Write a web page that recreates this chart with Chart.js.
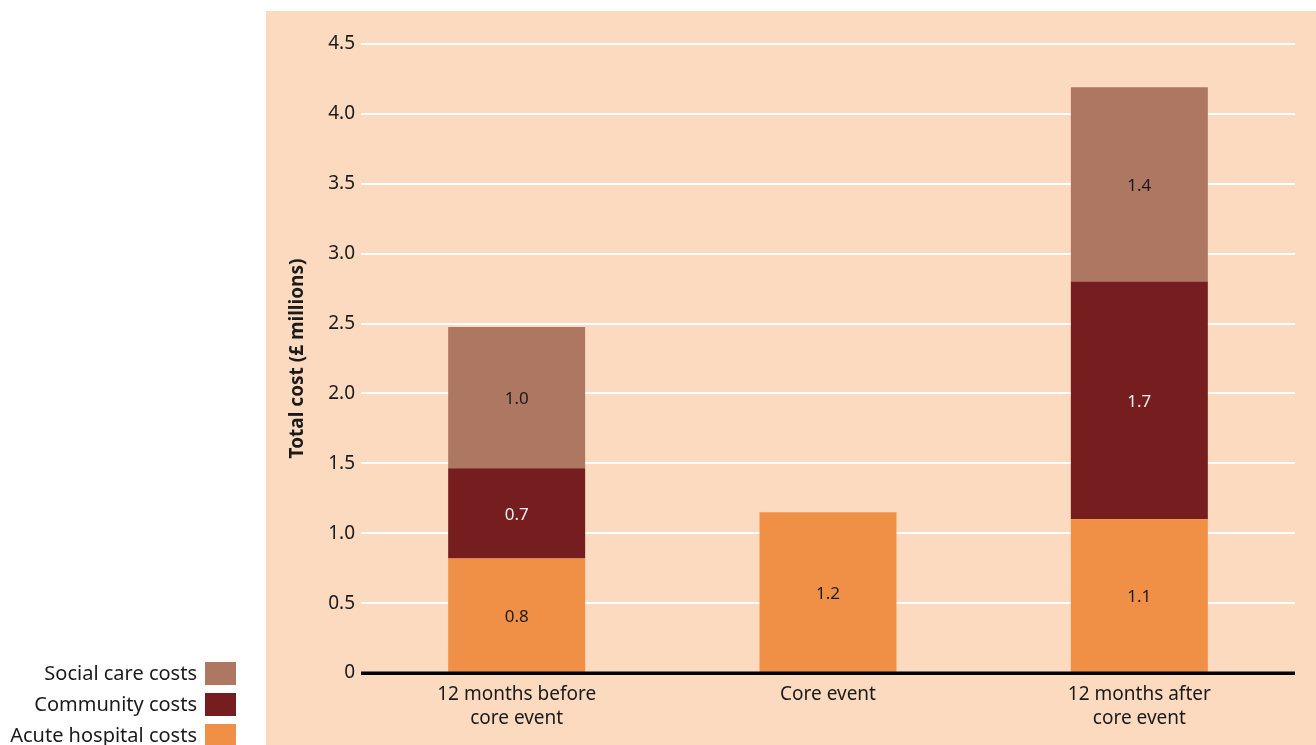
<!DOCTYPE html>
<html>
<head>
<meta charset="utf-8">
<script src="https://cdn.jsdelivr.net/npm/chart.js@4"></script>
<style>
  html, body { margin: 0; padding: 0; background: #fff; }
  #wrap { width: 1316px; height: 745px; position: relative; }
</style>
</head>
<body>
<div id="wrap"><canvas id="costChart" width="1316" height="745"></canvas></div>
<script>
const categories = [["12 months before", "core event"], "Core event", ["12 months after", "core event"]];
const acuteCosts = [0.82, 1.15, 1.10];
const communityCosts = [0.645, 0, 1.70];
const socialCosts = [1.01, 0, 1.39];
const acuteLabels = ["0.8", "1.2", "1.1"];
const communityLabels = ["0.7", "", "1.7"];
const socialLabels = ["1.0", "", "1.4"];

const FONT = "'Noto Sans', sans-serif";
const BG = "#FBDABF";

// peach panel behind the plot, legend stays on white
const panelBg = {
    id: "panelBg",
    beforeDraw(chart) {
        const c = chart.ctx;
        c.save();
        c.fillStyle = BG;
        c.fillRect(266, 11, chart.width - 266, chart.height - 11);
        c.restore();
    }
};

// black baseline + numbers inside the bar segments
const barText = {
    id: "barText",
    afterDatasetsDraw(chart) {
        const c = chart.ctx;
        const area = chart.chartArea;
        const y0 = chart.scales.y.getPixelForValue(0);
        c.save();
        c.fillStyle = "#000";
        c.fillRect(area.left, y0 - 1.5, area.right - area.left, 3.5);

        c.font = "17px " + FONT;
        c.textAlign = "center";
        c.textBaseline = "middle";
        chart.data.datasets.forEach((ds, i) => {
            const meta = chart.getDatasetMeta(i);
            meta.data.forEach((bar, j) => {
                const txt = ds.valueLabels[j];
                if (!txt) return;
                c.fillStyle = ds.textColor;
                c.fillText(txt, bar.x, (bar.y + bar.base) / 2 + 2);
            });
        });
        c.restore();
    }
};

// legend at bottom left: text right-aligned, swatch to its right
const sideLegend = {
    id: "sideLegend",
    afterDraw(chart) {
        const c = chart.ctx;
        const rows = [2, 1, 0];
        c.save();
        c.font = "20px " + FONT;
        c.textAlign = "right";
        c.textBaseline = "middle";
        rows.forEach((idx, r) => {
            const ds = chart.data.datasets[idx];
            const top = 662 + r * 31;
            c.fillStyle = ds.backgroundColor;
            c.fillRect(205, top, 31, 23);
            c.fillStyle = "#1a1a1a";
            c.fillText(ds.label, 197, top + 12);
        });
        c.restore();
    }
};

new Chart(document.getElementById("costChart"), {
    type: "bar",
    data: {
        labels: categories,
        datasets: [
            { label: "Acute hospital costs", data: acuteCosts, backgroundColor: "#F09046", valueLabels: acuteLabels, textColor: "#1a1a1a" },
            { label: "Community costs", data: communityCosts, backgroundColor: "#761E1F", valueLabels: communityLabels, textColor: "#f4f0ee" },
            { label: "Social care costs", data: socialCosts, backgroundColor: "#AD7762", valueLabels: socialLabels, textColor: "#1a1a1a" }
        ]
    },
    options: {
        responsive: false,
        devicePixelRatio: 1,
        animation: false,
        layout: { padding: { left: 266, right: 21, top: 44, bottom: 0 } },
        datasets: { bar: { barPercentage: 0.44, categoryPercentage: 1, borderWidth: 0 } },
        plugins: { legend: { display: false }, tooltip: { enabled: false } },
        scales: {
            x: {
                stacked: true,
                grid: { display: false, drawTicks: false },
                border: { display: false },
                ticks: { color: "#1a1a1a", font: { family: FONT, size: 19, lineHeight: 1.3 }, padding: 9, maxRotation: 0 },
                afterFit(s) { s.height = 72; }
            },
            y: {
                stacked: true,
                min: 0,
                max: 4.5,
                grid: {
                    drawTicks: false,
                    color: (ctx) => ctx.tick.value === 0 ? "rgba(0,0,0,0)" : "#ffffff",
                    lineWidth: 2
                },
                border: { display: false },
                ticks: {
                    stepSize: 0.5,
                    padding: 6,
                    color: "#1a1a1a",
                    font: { family: FONT, size: 19 },
                    callback: (v) => v === 0 ? "0" : v.toFixed(1)
                },
                title: {
                    display: true,
                    text: "Total cost (£ millions)",
                    color: "#1a1a1a",
                    font: { family: FONT, size: 19, weight: "bold" },
                    padding: { top: 20, bottom: 0 }
                },
                afterFit(s) { s.width = 95; }
            }
        }
    },
    plugins: [panelBg, barText, sideLegend]
});
</script>
</body>
</html>
